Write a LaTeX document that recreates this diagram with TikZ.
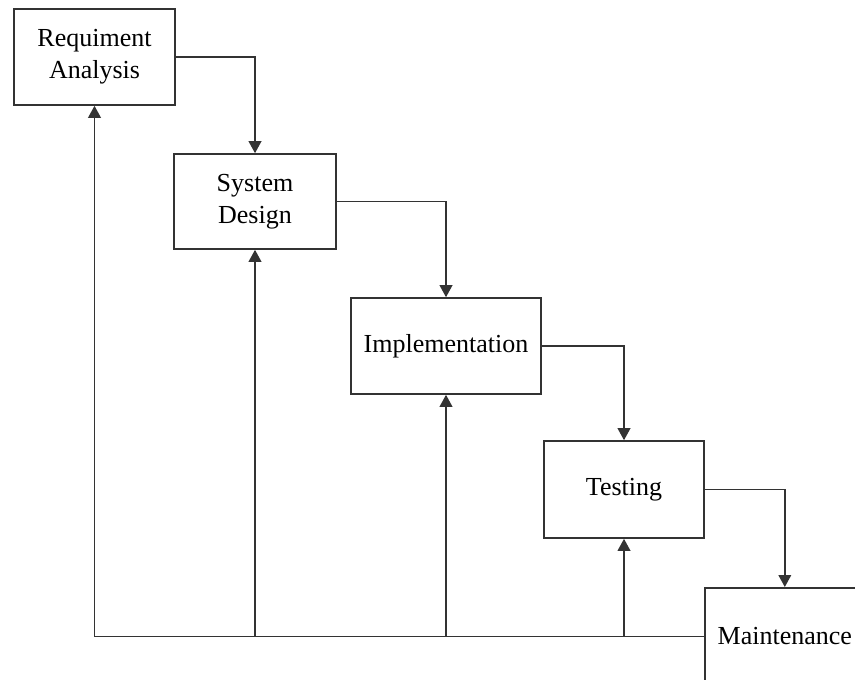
\documentclass[tikz,border=0pt]{standalone}
\usepackage{fontspec}
\setmainfont{Liberation Serif}
\usetikzlibrary{arrows.meta}
\begin{document}
\begin{tikzpicture}[x=0.75pt,y=-0.75pt,
  box/.style={draw=black!80,line width=1.2pt,fill=white,align=center,inner sep=0pt,
    font=\fontsize{19.5}{24}\selectfont,minimum width=160*0.75pt,minimum height=96*0.75pt},
  conn/.style={draw=black!80,line width=1.2pt},
  arr/.style={conn,-{Triangle[length=9pt,width=9.5pt]}}]
\useasboundingbox (0,0) rectangle (855,679);
\clip (0,0) rectangle (855,679);
\fill[white] (0,0) rectangle (855,679);
\node[box,minimum width=161*0.75pt] (req) at (94.5,57) {Requiment\\Analysis};
\node[box,minimum width=162*0.75pt,minimum height=95*0.75pt] (sys) at (255,201.5) {System\\Design};
\node[box,minimum width=190*0.75pt] (imp) at (446,346) {Implementation};
\node[box,minimum height=97*0.75pt] (tes) at (624,489.5) {Testing};
\node[box,anchor=north west,minimum height=97*0.75pt] (mai) at (704,587) {Maintenance};
\coordinate (base) at (mai.west);
\draw[arr] (req.east) -| (sys.north);
\draw[arr] (sys.east) -| (imp.north);
\draw[arr] (imp.east) -| (tes.north);
\draw[arr] (tes.east) -| (mai.north);
\draw[arr] (base) -| (req.south);
\draw[arr] (sys.south |- base) -- (sys.south);
\draw[arr] (imp.south |- base) -- (imp.south);
\draw[arr] (tes.south |- base) -- (tes.south);
\end{tikzpicture}
\end{document}
